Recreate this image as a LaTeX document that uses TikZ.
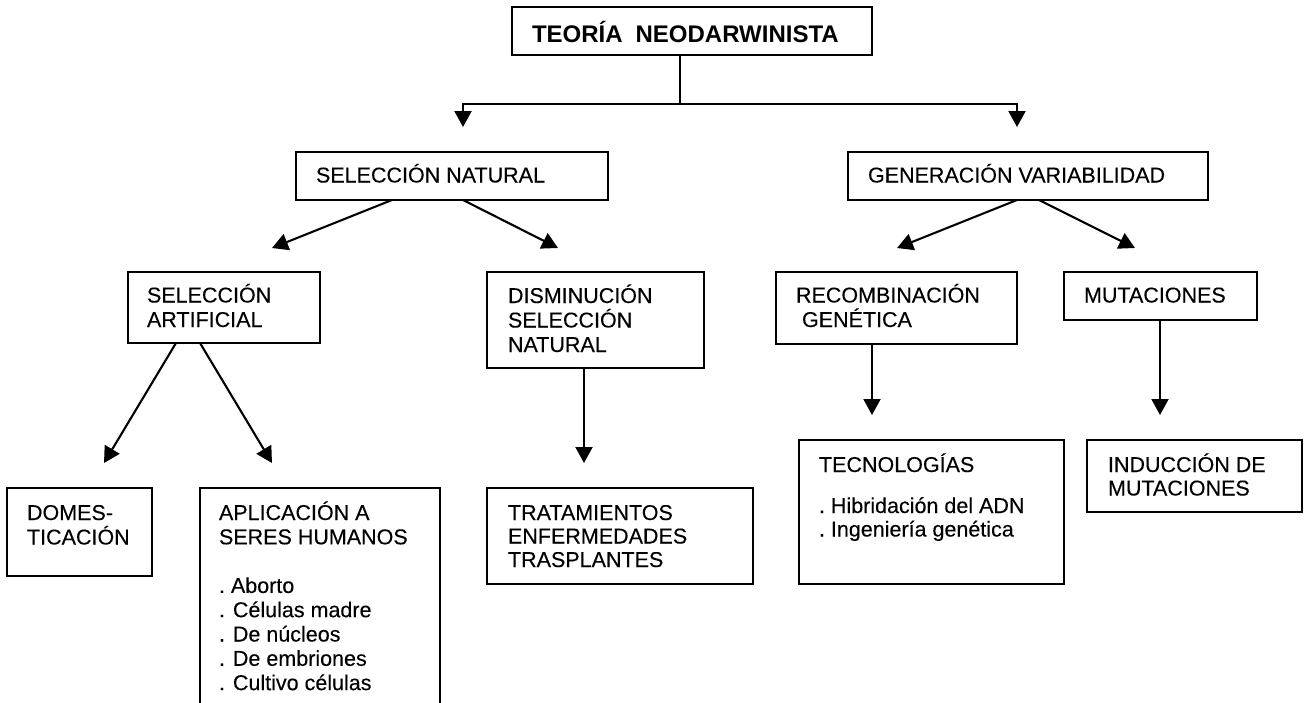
\documentclass[tikz,border=0pt]{standalone}
\usepackage{fontspec}
\setmainfont{Liberation Sans}[UprightFeatures={FakeBold=0.2}]
\usetikzlibrary{arrows.meta}
\newcommand\boxlines[2][24]{\parbox[t]{420pt}{\fontsize{21.5pt}{#1pt}\selectfont #2}}
\begin{document}
\begin{tikzpicture}[x=1pt,y=-1pt,
  box/.style={draw,line width=1.9pt,rectangle,inner sep=0pt,outer sep=0pt,anchor=north west},
  lbl/.style={anchor=base west,inner sep=0pt,outer sep=0pt},
  arr/.style={line width=2.1pt,-{Triangle[length=16pt,width=17pt]}},
  conn/.style={line width=2.1pt}]
\useasboundingbox (0,0) rectangle (1304,702);
\clip (0,0) rectangle (1304,702);

% boxes
\node[box,minimum width=360pt,minimum height=48pt] (top) at (512,7) {};
\node[box,minimum width=312pt,minimum height=48pt] (sn) at (296,152) {};
\node[box,minimum width=360pt,minimum height=48pt] (gv) at (848,152) {};
\node[box,minimum width=192pt,minimum height=71pt] (sa) at (128,272) {};
\node[box,minimum width=217pt,minimum height=96pt] (dis) at (487,272) {};
\node[box,minimum width=241pt,minimum height=72pt] (rc) at (776,272) {};
\node[box,minimum width=193pt,minimum height=48pt] (mut) at (1064,272) {};
\node[box,minimum width=145pt,minimum height=88pt] (dom) at (7,488) {};
\node[box,minimum width=240pt,minimum height=242pt] (apl) at (200,488) {};
\node[box,minimum width=266pt,minimum height=96pt] (trat) at (487,488) {};
\node[box,minimum width=265pt,minimum height=144pt] (tec) at (799,440) {};
\node[box,minimum width=215pt,minimum height=72pt] (ind) at (1087,440) {};

% texts
\node[lbl] (top-t) at (532,42) {\fontsize{24pt}{28pt}\selectfont\bfseries TEORÍA\hspace{13pt}NEODARWINISTA};
\node[lbl] (sn-t) at (316,182.5) {\boxlines{SELECCIÓN NATURAL}};
\node[lbl] (gv-t) at (868,182.5) {\boxlines{GENERACIÓN VARIABILIDAD}};
\node[lbl] (sa-t) at (147,302.5) {\boxlines[24.5]{SELECCIÓN\\ARTIFICIAL}};
\node[lbl] (dis-t) at (508,303) {\boxlines[24.5]{DISMINUCIÓN\\SELECCIÓN\\NATURAL}};
\node[lbl] (rc-t) at (796,302.5) {\boxlines[24.5]{RECOMBINACIÓN\\\hspace*{6pt}GENÉTICA}};
\node[lbl] (mut-t) at (1084,302.5) {\boxlines{MUTACIONES}};
\node[lbl] (dom-t) at (27,520) {\boxlines[24.5]{DOMES-\\TICACIÓN}};
\node[lbl] (apl-t) at (219,520) {\boxlines[24.3]{APLICACIÓN A\\SERES HUMANOS\\[24.3pt]. Aborto\\. Células madre\\. De núcleos\\. De embriones\\. Cultivo células}};
\node[lbl] (trat-t) at (508,520) {\boxlines[23.5]{TRATAMIENTOS\\ENFERMEDADES\\TRASPLANTES}};
\node[lbl] (tec-t) at (819,472) {\boxlines[23.5]{TECNOLOGÍAS\\[17.5pt]. Hibridación del ADN\\. Ingeniería genética}};
\node[lbl] (ind-t) at (1108,472) {\boxlines[23.5]{INDUCCIÓN DE\\MUTACIONES}};

% connector points
\coordinate (j) at (680,104);
\coordinate (tl) at (463,127);
\coordinate (tr) at (1017,127);
\coordinate (snl) at (272,248);
\coordinate (snr) at (558,248);
\coordinate (gvl) at (897,248);
\coordinate (gvr) at (1135,248);
\coordinate (sal) at (104,463);
\coordinate (sar) at (272,463);
\coordinate (disd) at (584,463);
\coordinate (rcd) at (872,415);
\coordinate (mutd) at (1160,415);

% connectors
\draw[conn] (top.south -| j) -- (j);
\draw[arr] (j) -| (tl);
\draw[arr] (j) -| (tr);
\draw[arr] ([xshift=96pt]sn.south west) -- (snl);
\draw[arr] ([xshift=167pt]sn.south west) -- (snr);
\draw[arr] ([xshift=169pt]gv.south west) -- (gvl);
\draw[arr] ([xshift=191pt]gv.south west) -- (gvr);
\draw[arr] ([xshift=48pt]sa.south west) -- (sal);
\draw[arr] ([xshift=72pt]sa.south west) -- (sar);
\draw[arr] ([xshift=97pt]dis.south west) -- (disd);
\draw[arr] ([xshift=96pt]rc.south west) -- (rcd);
\draw[arr] ([xshift=96pt]mut.south west) -- (mutd);
\end{tikzpicture}
\end{document}
